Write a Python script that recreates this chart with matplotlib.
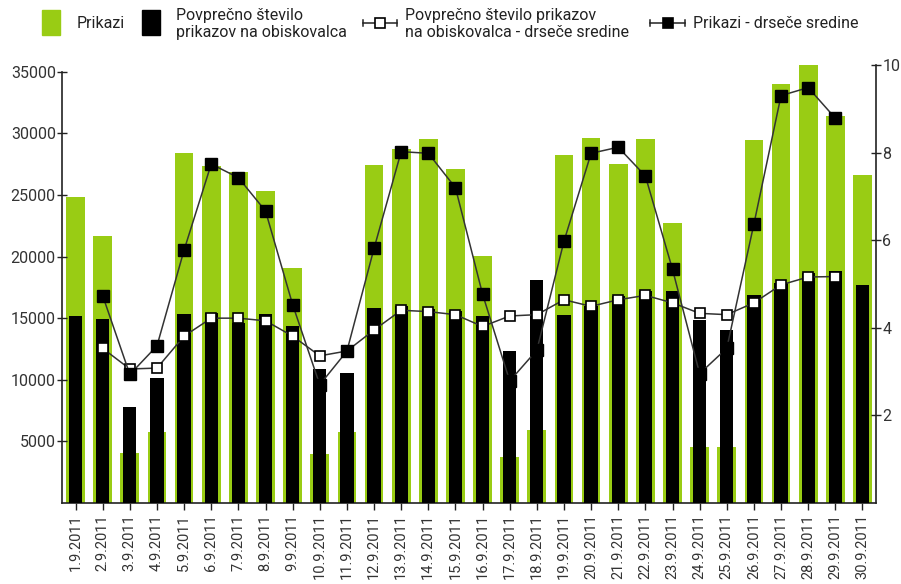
import matplotlib
matplotlib.use("Agg")
import matplotlib.pyplot as plt
from matplotlib.lines import Line2D
from matplotlib.patches import Rectangle
import numpy as np

plt.rcParams['font.family'] = ['Roboto', 'DejaVu Sans']

dates = [f"{d}.9.2011" for d in range(1, 31)]

# Prikazi (left axis)
prikazi = [24800, 21700, 4050, 5800, 28400, 27350, 26850, 25350, 19100, 3950,
           5800, 27450, 28700, 29550, 27100, 20050, 3700, 5900, 28200, 29650,
           27550, 29550, 22750, 4550, 4550, 29450, 34000, 35550, 31400, 26600]

# Povprecno stevilo prikazov na obiskovalca (right axis)
povp = [4.26, 4.20, 2.19, 2.85, 4.31, 4.33, 4.11, 4.31, 4.05, 3.06,
        2.96, 4.45, 4.49, 4.43, 4.39, 4.26, 3.48, 5.10, 4.30, 4.50,
        4.72, 4.83, 4.83, 4.17, 3.95, 4.75, 5.02, 5.25, 5.29, 4.97]

# Povprecno stevilo prikazov na obiskovalca - drsece sredine (right axis), 2.9 .. 29.9
povp_ma = [3.53, 3.06, 3.08, 3.81, 4.22, 4.22, 4.16, 3.81, 3.36, 3.47,
           3.95, 4.40, 4.37, 4.30, 4.03, 4.27, 4.30, 4.64, 4.49, 4.64,
           4.74, 4.57, 4.33, 4.30, 4.57, 4.98, 5.16, 5.17]

# Prikazi - drsece sredine (left axis), 2.9 .. 29.9
prikazi_ma = [16820, 10430, 12750, 20530, 27510, 26400, 23700, 16100, 9600, 12320,
              20660, 28510, 28380, 25590, 16950, 9900, 12400, 21240, 28380, 28870,
              26540, 18960, 10500, 12550, 22640, 33060, 33710, 31230]

W, H = 901, 584
fig = plt.figure(figsize=(W / 100, H / 100), dpi=100)
L, R, T, B = 62, 876, 65, 503
ax = fig.add_axes([L / W, 1 - B / H, (R - L) / W, (B - T) / H])
ax2 = ax.twinx()

x = np.arange(len(dates))
xm = x[1:-1]
LEFT_MAX = 35544

green = '#99cc14'
ax.bar(x, prikazi, width=0.69, color=green, zorder=1)
ax.set_ylim(0, LEFT_MAX)
ax.set_xlim(-0.5, len(dates) - 0.5)

ax2.bar(x, povp, width=0.49, color='black', zorder=2)
ax2.set_ylim(0, 10)

ax2.plot(xm, povp_ma, color='#333333', lw=1.1, marker='s', ms=7.5,
         mfc='white', mec='black', mew=1.2, zorder=5)
ax2.plot(xm, np.array(prikazi_ma) / LEFT_MAX * 10,
         color='#333333', lw=1.1, marker='s', ms=8, mfc='black', mec='black', zorder=6)

ax.set_zorder(0)
ax2.set_zorder(1)
ax.patch.set_visible(False)

for a in (ax, ax2):
    a.spines['top'].set_visible(False)
ax.spines['right'].set_visible(False)
ax2.spines['left'].set_visible(False)
ax2.spines['bottom'].set_visible(False)
ax.spines['left'].set_bounds(0, 35000)
ax2.spines['right'].set_bounds(0, 10)
for s in ('left', 'bottom'):
    ax.spines[s].set_color('#222222')
    ax.spines[s].set_linewidth(1.2)
ax2.spines['right'].set_color('#222222')
ax2.spines['right'].set_linewidth(1.2)

ax.set_yticks([5000, 10000, 15000, 20000, 25000, 30000, 35000])
ax.set_yticklabels(['5000', '10000', '15000', '20000', '25000', '30000', '35000'])
ax2.set_yticks([2, 4, 6, 8, 10])
ax2.set_yticklabels(['2', '4', '6', '8', '10'])
ax.tick_params(axis='y', direction='inout', length=7, width=1, colors='#222222',
               labelsize=11.5, labelcolor='#333333', pad=1)
ax2.tick_params(axis='y', direction='inout', length=7, width=1, colors='#222222',
                labelsize=11.5, labelcolor='#333333', pad=1)
ax.set_xticks(x)
ax.set_xticklabels(dates, rotation=90, fontsize=10.5, color='#333333')
ax.tick_params(axis='x', direction='out', length=5, width=1, colors='#222222',
               labelcolor='#333333', pad=3)

# Legend drawn manually in figure coordinates
def fx(px):
    return px / W

def fy(py):
    return 1 - py / H

fig.patches.append(Rectangle((fx(42), fy(35)), 18 / W, 25 / H, color=green,
                             transform=fig.transFigure, figure=fig))
fig.text(fx(77), fy(23), 'Prikazi', fontsize=11.5, va='center', ha='left', color='#222222')
fig.patches.append(Rectangle((fx(142), fy(35)), 17.5 / W, 25 / H, color='black',
                             transform=fig.transFigure, figure=fig))
fig.text(fx(176), fy(24), 'Povprečno število\nprikazov na obiskovalca', fontsize=11.5,
         va='center', ha='left', color='#222222', linespacing=1.15)

def leg_line(x0, x1, yy, face):
    fig.lines.append(Line2D([fx(x0), fx(x1)], [fy(yy), fy(yy)], color='#222222', lw=1.1,
                            transform=fig.transFigure, figure=fig))
    for xe in (x0, x1):
        fig.lines.append(Line2D([fx(xe), fx(xe)], [fy(yy - 3), fy(yy + 3)], color='#222222',
                                lw=1.1, transform=fig.transFigure, figure=fig))
    fig.lines.append(Line2D([fx((x0 + x1) / 2)], [fy(yy)], marker='s', ms=7.5, mfc=face,
                            mec='black', mew=1.2, transform=fig.transFigure, figure=fig))

leg_line(363, 397, 23, 'white')
fig.text(fx(405), fy(24), 'Povprečno število prikazov\nna obiskovalca - drseče sredine',
         fontsize=11.5, va='center', ha='left', color='#222222', linespacing=1.15)
leg_line(650, 685, 23, 'black')
fig.text(fx(693), fy(23), 'Prikazi - drseče sredine', fontsize=11.5, va='center',
         ha='left', color='#222222')

fig.savefig('out.png', dpi=100)
